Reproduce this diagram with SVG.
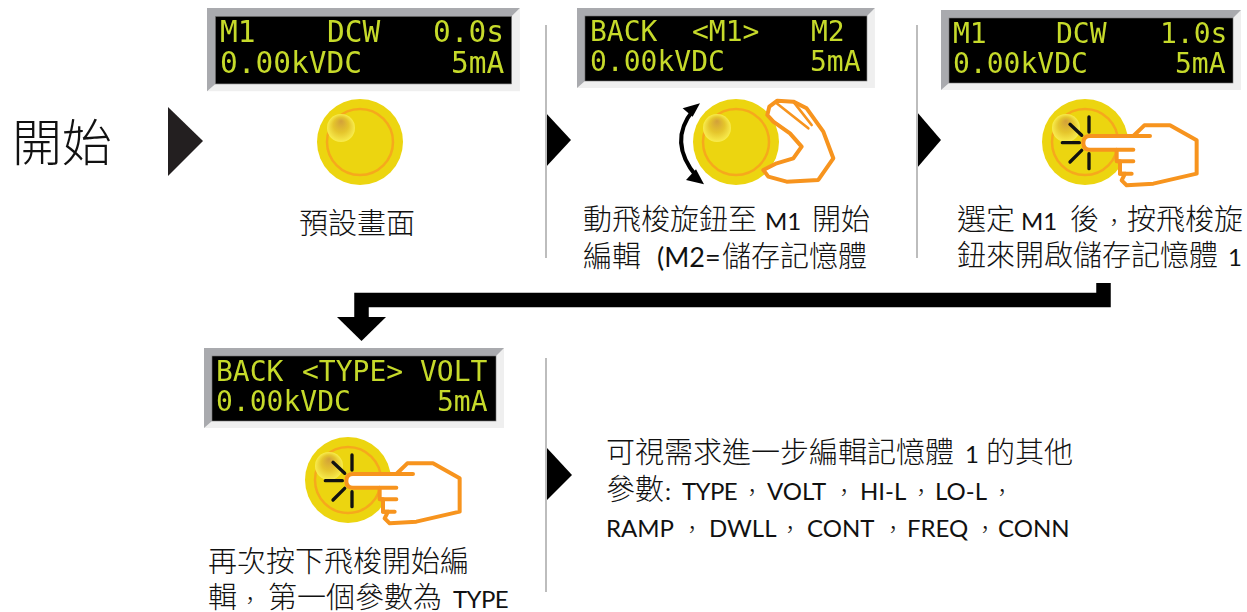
<svg xmlns="http://www.w3.org/2000/svg" width="1247" height="612" viewBox="0 0 1247 612" lang="zh-TW">
<style>
text{font-family:"Noto Sans CJK TC","Noto Sans CJK SC",sans-serif;fill:#111;font-weight:300}
.lb{font-size:29px}
.la{font-family:"Lato","Noto Sans CJK TC",sans-serif;font-size:24px;font-weight:400}
.ty{letter-spacing:-.6px}
.cm{font-size:22px}
.lcd{filter:url(#soft)}
.lcd text{font-family:"DejaVu Sans Mono",monospace;font-size:28px;fill:#c6da2b;font-weight:400}
.lcd .big{font-size:29.5px}
.sep{stroke:#bdbdbd;stroke-width:2;fill:none}
.tri{fill:#000}
.hand{fill:#fff;stroke:#f7941e;stroke-width:12;stroke-linejoin:round;stroke-linecap:round}
.ray{stroke:#111;stroke-width:10;stroke-linecap:round;fill:none}
</style>
<defs>
<filter id="soft" x="-5%" y="-5%" width="110%" height="110%"><feGaussianBlur stdDeviation=".35"/></filter>
<radialGradient id="hl" cx="50%" cy="50%" r="50%" fx="50%" fy="25%">
<stop offset="0" stop-color="#d2a03a"/><stop offset=".55" stop-color="#e5c52c"/><stop offset="1" stop-color="#f8ec4e"/>
</radialGradient>
<g id="frame">
<rect width="300" height="80" fill="#efefef"/>
<polygon points="0,0 300,0 292,8 8,8 8,73 0,80" fill="#a9aaae"/>
<rect x="8" y="8" width="284" height="65" fill="#000" stroke="#777" stroke-width=".6"/>
</g>
<g id="knob">
<circle r="43" fill="#ecd510"/>
<circle r="33" fill="none" stroke="#f6a91c" stroke-width="2.5"/>
<circle cx="-19" cy="-14" r="14" fill="url(#hl)"/>
</g>
<g id="press">
<g transform="scale(.3333)">
<path class="ray" d="M12,-75V-30M-45,-53L-10,-20M-68,2H-17M-45,60L-10,25M12,35V80"/>
<path class="hand" d="M145,-18L178,-50H255L335,-5V95L205,125L125,130L110,115L120,95H105V58H95V23H15Q-5,23 -5,3Q-5,-18 15,-18H195"/>
<path class="hand" fill="none" d="M95,23H145M98,58H145M105,95H140"/>
</g>
</g>
<marker id="ah" markerUnits="userSpaceOnUse" markerWidth="24" markerHeight="49" viewBox="0 0 24 49" refX="0" refY="24.5" orient="auto">
<polygon points="0,0 24,24.5 0,49" fill="#000"/>
</marker>
</defs>

<g id="connectors">
<path d="M1103.5,283V300H361.5V317" fill="none" stroke="#000" stroke-width="14.5" marker-end="url(#ah)"/>
<polygon class="tri" points="168,107 203,141 168,176" style="fill:#231f20"/>
<polygon class="tri" points="545,112 571,140 545,168"/>
<polygon class="tri" points="917,112 941,140 917,168"/>
<polygon class="tri" points="547,448 572,475 547,500"/>
<path class="sep" d="M546,25V258M917,25V258M546,358V592"/>
</g>

<g id="start"><text x="12" y="161" style="font-size:50px">開始</text></g>

<g id="step1">
<use href="#frame" transform="translate(207,8) scale(1.043,1.04)"/>
<g class="lcd">
<text class="big" x="220" y="42">M1</text><text class="big" x="327" y="42">DCW</text><text class="big" x="433" y="42">0.0s</text>
<text class="big" x="220" y="73">0.00kVDC</text><text class="big" x="451" y="73">5mA</text>
</g>
<use href="#knob" x="360" y="142"/>
<text class="lb" x="299" y="234">預設畫面</text>
</g>

<g id="step2">
<use href="#frame" transform="translate(577,8) scale(.993,1)"/>
<g class="lcd">
<text x="590" y="41">BACK</text><text x="692" y="41">&lt;M1&gt;</text><text x="811" y="41">M2</text>
<text x="590" y="71">0.00kVDC</text><text x="810" y="71">5mA</text>
</g>
<use href="#knob" x="736" y="142"/>
<g transform="translate(560,0) scale(.3333)">
<path d="M400,330Q322,425 410,530" fill="none" stroke="#000" stroke-width="12"/>
<polygon points="420,310 368,325 398,350" fill="#000"/>
<polygon points="432,553 378,540 408,508" fill="#000"/>
<path class="hand" d="M622,345L628,320L652,302L700,305L740,325L790,395L820,475L775,540L680,545L625,530L610,510L650,490L700,475L725,440L690,400L640,365Z"/>
<path class="hand" fill="none" style="stroke-width:8" d="M650,310L745,385M700,305L755,375"/>
</g>
<text class="lb" y="230"><tspan x="583">動飛梭旋鈕至</tspan><tspan class="la" x="765">M1</tspan><tspan x="812">開始</tspan></text>
<text class="lb" y="267"><tspan x="583">編輯</tspan><tspan class="la" x="657" style="font-size:27px">(M2=</tspan><tspan x="722">儲存記憶體</tspan></text>
</g>

<g id="step3">
<use href="#frame" transform="translate(941,10)"/>
<g class="lcd">
<text x="953" y="43">M1</text><text x="1056" y="43">DCW</text><text x="1160" y="43">1.0s</text>
<text x="953" y="73">0.00kVDC</text><text x="1175" y="73">5mA</text>
</g>
<use href="#knob" x="1085" y="142"/>
<use href="#press" x="1085" y="142"/>
<text class="lb" y="230"><tspan x="957">選定</tspan><tspan class="la" x="1021">M1</tspan><tspan x="1070">後</tspan><tspan class="cm" x="1103">，</tspan><tspan x="1127">按飛梭旋</tspan></text>
<text class="lb" y="266"><tspan x="957">鈕來開啟儲存記憶體</tspan><tspan class="la" x="1228">1</tspan></text>
</g>

<g id="step4">
<use href="#frame" transform="translate(204,348)"/>
<g class="lcd">
<text x="216" y="381">BACK</text><text x="302" y="381">&lt;TYPE&gt;</text><text x="420" y="381">VOLT</text>
<text x="216" y="411">0.00kVDC</text><text x="437" y="411">5mA</text>
</g>
<use href="#knob" x="348" y="480"/>
<use href="#press" x="348" y="480"/>
<text class="lb" x="208" y="572">再次按下飛梭開始編</text>
<text class="lb" y="608"><tspan x="208">輯</tspan><tspan class="cm" x="239">，</tspan><tspan x="268">第一個參數為</tspan><tspan class="la ty" x="453">TYPE</tspan></text>
</g>

<g id="step5">
<text class="lb" y="463"><tspan x="606">可視需求進一步編輯記憶體</tspan><tspan class="la" x="965">1</tspan><tspan x="986">的其他</tspan></text>
<text class="lb" y="500"><tspan x="606">參數</tspan><tspan class="la" x="665">:</tspan><tspan class="la ty" x="682">TYPE</tspan><tspan class="cm" x="741">，</tspan><tspan class="la" x="767">VOLT</tspan><tspan class="cm" x="833">，</tspan><tspan class="la" x="860">HI-L</tspan><tspan class="cm" x="910">，</tspan><tspan class="la" x="935">LO-L</tspan><tspan class="cm" x="991">，</tspan></text>
<text class="lb" y="537"><tspan class="la" x="606">RAMP</tspan><tspan class="cm" x="681">，</tspan><tspan class="la" x="709">DWLL</tspan><tspan class="cm" x="779">，</tspan><tspan class="la" x="807">CONT</tspan><tspan class="cm" x="882">，</tspan><tspan class="la" x="907">FREQ</tspan><tspan class="cm" x="974">，</tspan><tspan class="la" x="998">CONN</tspan></text>
</g>
</svg>
